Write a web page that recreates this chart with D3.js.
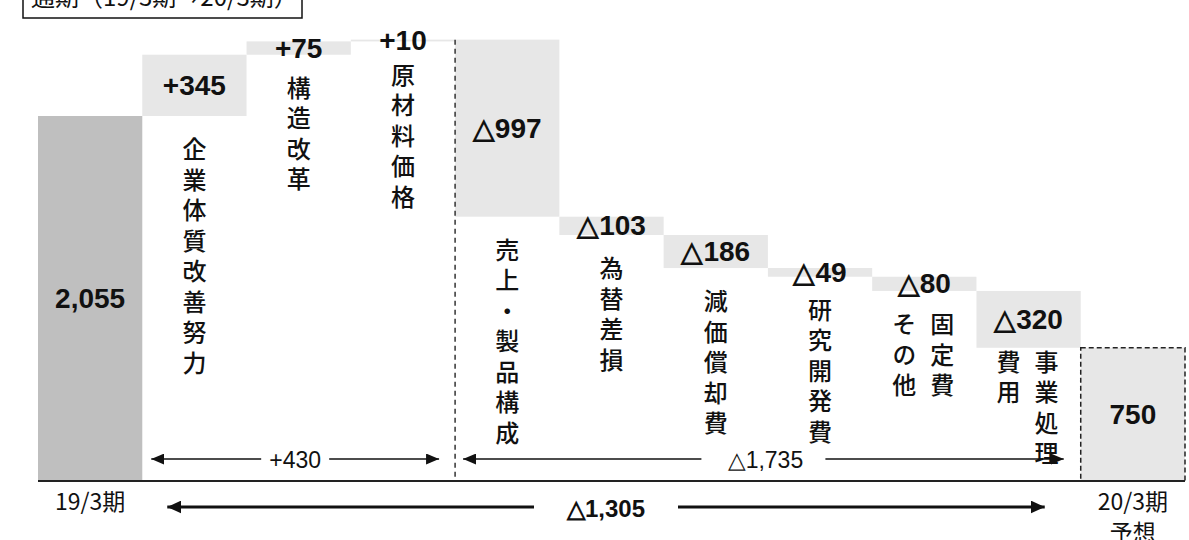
<!DOCTYPE html>
<html>
<head>
<meta charset="utf-8">
<script src="https://cdn.jsdelivr.net/npm/d3@7"></script>
<style>
  body { margin: 0; background: #fff; }
  svg { display: block; }
</style>
</head>
<body>
<svg width="1189" height="540"></svg>
<script>
// categories (one entry per bar), label columns are read right-to-left like the original
var categories = ["19/3期", "企業体質改善努力", "構造改革", "原材料価格", "売上・製品構成",
                  "為替差損", "減価償却費", "研究開発費", "固定費その他", "事業処理費用", "20/3期予想"];
var labelColumns = [["19/3期"], ["企業体質改善努力"], ["構造改革"], ["原材料価格"], ["売上・製品構成"],
                    ["為替差損"], ["減価償却費"], ["研究開発費"], ["固定費", "その他"], ["事業処理", "費用"], ["20/3期", "予想"]];
// operating income bridge (億円), first and last are totals
var values = [2055, 345, 75, 10, -997, -103, -186, -49, -80, -320, 750];
var isTotal = [true, false, false, false, false, false, false, false, false, false, true];
// bracket arrows under the bars
var spanFrom = [1, 4, 1];
var spanTo = [3, 9, 9];
var spanLabels = ["+430", "△1,735", "△1,305"];

var svg = d3.select("svg");
var left = 38, right = 1185, baseY = 481;

var x = d3.scaleBand().domain(d3.range(categories.length)).range([left, right]).padding(0);
var y = d3.scaleLinear().domain([0, 2055]).range([baseY, 116]);

// running totals for the waterfall
var running = 0;
var bars = values.map(function(v, i) {
  var lo, hi;
  if (isTotal[i]) { lo = 0; hi = v; running = v; }
  else { lo = Math.min(running, running + v); hi = Math.max(running, running + v); running += v; }
  return { i: i, v: v, lo: lo, hi: hi };
});

var fmt = d3.format(",");
var valueText = function(d) {
  if (isTotal[d.i]) return fmt(d.v);
  return d.v > 0 ? "+" + fmt(d.v) : "△" + fmt(-d.v);
};

var jp = "'Noto Sans CJK JP', sans-serif";
var num = "'Liberation Sans', Arial, sans-serif";

// title box, cut at the top edge
svg.append("rect").attr("x", 23).attr("y", -12).attr("width", 279).attr("height", 30)
  .attr("fill", "none").attr("stroke", "#111").attr("stroke-width", 1.5);
svg.append("text").attr("x", 31).attr("y", 6)
  .style("font-family", jp).style("font-size", "24px").attr("fill", "#111")
  .text("通期（19/3期→20/3期）");

// bars
svg.selectAll("rect.bar")
  .data(bars)
  .enter().append("rect")
    .attr("class", "bar")
    .attr("x", function(d) { return x(d.i); })
    .attr("width", x.bandwidth())
    .attr("y", function(d) { return y(d.hi); })
    .attr("height", function(d) { return y(d.lo) - y(d.hi); })
    .attr("fill", function(d) { return d.i === 0 ? "#bfbfbf" : "#e7e7e7"; })
    .attr("stroke", function(d) { return d.i === categories.length - 1 ? "#222" : "none"; })
    .attr("stroke-width", 1.5)
    .attr("stroke-dasharray", "5,3");

// dashed divider between plus and minus factors
svg.append("line")
  .attr("x1", x(4)).attr("x2", x(4))
  .attr("y1", y(bars[3].hi)).attr("y2", baseY)
  .attr("stroke", "#333").attr("stroke-width", 1.5).attr("stroke-dasharray", "5,4");

// baseline
svg.append("line").attr("x1", left).attr("x2", right).attr("y1", baseY).attr("y2", baseY)
  .attr("stroke", "#222").attr("stroke-width", 2);

// value labels, centred in each bar
svg.selectAll("text.val")
  .data(bars)
  .enter().append("text")
    .attr("class", "val")
    .attr("x", function(d) { return x(d.i) + x.bandwidth() / 2; })
    .attr("y", function(d) { return (y(d.lo) + y(d.hi)) / 2; })
    .attr("text-anchor", "middle").attr("dominant-baseline", "central")
    .style("font-family", num).style("font-weight", "bold")
    .style("font-size", "28px").attr("fill", "#111")
    .text(valueText);

// vertical category labels under the factor bars
var fs = 24, step = 30.5;
bars.forEach(function(d) {
  if (isTotal[d.i]) return;
  var cols = labelColumns[d.i];
  var cx = x(d.i) + x.bandwidth() / 2;
  var gap = d.i === 9 ? 14 : 33;
  var top = y(d.lo) + gap - fs / 2;
  cols.forEach(function(col, c) {
    var colX = cols.length === 1 ? cx : (c === 0 ? cx + 18 : cx - 20);
    svg.append("text")
      .attr("x", colX)
      .attr("y", top)
      .style("writing-mode", "vertical-rl")
      .style("letter-spacing", (step - fs) + "px")
      .style("font-family", jp).style("font-size", fs + "px").style("font-weight", 500)
      .attr("fill", "#111")
      .text(col);
  });
});

// period labels under the total bars
[0, categories.length - 1].forEach(function(i) {
  labelColumns[i].forEach(function(line, k) {
    svg.append("text")
      .attr("x", x(i) + x.bandwidth() / 2)
      .attr("y", 500 + k * 31)
      .attr("text-anchor", "middle").attr("dominant-baseline", "central")
      .style("font-family", jp).style("font-size", "23px").attr("fill", "#111")
      .text(line);
  });
});

// arrowheads
var defs = svg.append("defs");
function marker(id, w, h) {
  var m = defs.append("marker").attr("id", id)
    .attr("viewBox", "0 0 " + w + " " + h).attr("refX", w).attr("refY", h / 2)
    .attr("markerWidth", w).attr("markerHeight", h).attr("markerUnits", "userSpaceOnUse")
    .attr("orient", "auto-start-reverse");
  m.append("path").attr("d", "M0,0L" + w + "," + (h / 2) + "L0," + h + "Z").attr("fill", "#111");
}
marker("arr", 13, 11);
marker("arrBig", 14, 13);

// bracket arrows
var spanX1 = [x(1) + 9, x(4) + 8, x(1) + 25];
var spanX2 = [x(3) + x.bandwidth() - 16, x(9) + x.bandwidth() - 17, x(9) + x.bandwidth() - 36];
var spanY = [459, 459, 507];
var spanGap = [34, 62, 72];
spanLabels.forEach(function(lab, k) {
  var big = k === 2;
  var x1 = spanX1[k], x2 = spanX2[k], mid = (x1 + x2) / 2, yy = spanY[k];
  var g = svg.append("g");
  g.append("line").attr("x1", mid - spanGap[k]).attr("x2", x1).attr("y1", yy).attr("y2", yy)
    .attr("stroke", "#111").attr("stroke-width", big ? 3 : 1.5)
    .attr("marker-end", big ? "url(#arrBig)" : "url(#arr)");
  g.append("line").attr("x1", mid + spanGap[k]).attr("x2", x2).attr("y1", yy).attr("y2", yy)
    .attr("stroke", "#111").attr("stroke-width", big ? 3 : 1.5)
    .attr("marker-end", big ? "url(#arrBig)" : "url(#arr)");
  g.append("text").attr("x", mid + (k === 1 ? 2 : 0)).attr("y", yy + 1)
    .attr("text-anchor", "middle").attr("dominant-baseline", "central")
    .style("font-family", num)
    .style("font-weight", big ? "bold" : "normal")
    .style("font-size", big ? "24px" : "23px").attr("fill", "#111")
    .text(lab);
});
</script>
</body>
</html>
